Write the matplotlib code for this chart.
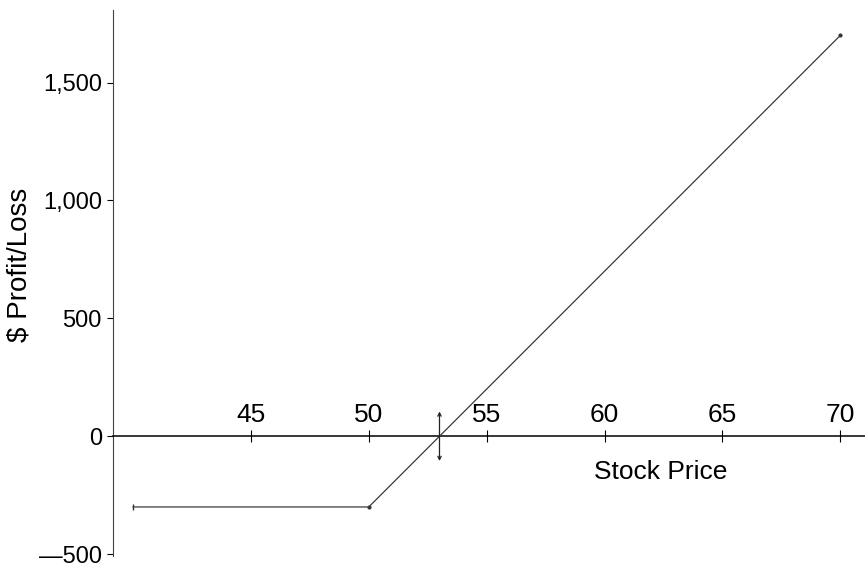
import matplotlib
matplotlib.use('Agg')
import matplotlib.pyplot as plt
from matplotlib.ticker import FuncFormatter

# Long call payoff: strike 50, premium 3 per share (100 shares)
prices = [40, 50, 70]
profit = [-300, -300, 1700]
breakeven = 53
x_ticks = [45, 50, 55, 60, 65, 70]
y_ticks = [-500, 0, 500, 1000, 1500]

plt.rcParams['font.family'] = ['Liberation Sans', 'DejaVu Sans']

fig = plt.figure(figsize=(8.65, 5.66), dpi=100)
ax = fig.add_axes([113 / 865, 10 / 566, 1 - 113 / 865, 546 / 566])

# payoff line
ax.plot(prices, profit, color='#3a3a3a', lw=0.9, zorder=3)
ax.plot(prices[0], profit[0], marker='|', color='#333333', ms=5, mew=1.0)
ax.plot(prices[1:], profit[1:], 'o', color='#333333', ms=2)

# breakeven marker
ax.annotate('', xy=(breakeven, 105), xytext=(breakeven, -105),
            arrowprops=dict(arrowstyle='<->', color='#222222', lw=0.9,
                            mutation_scale=6, shrinkA=0, shrinkB=0))

ax.set_xlim(39.15, 71.05)
ax.set_ylim(-508, 1808)

# x axis drawn at y = 0 with labels above
for s in ['right', 'bottom']:
    ax.spines[s].set_visible(False)
ax.spines['top'].set_position(('data', 0))
ax.spines['top'].set_linewidth(1.1)
ax.spines['left'].set_linewidth(0.8)
ax.spines['left'].set_color('#444444')
ax.xaxis.set_ticks_position('top')
ax.set_xticks(x_ticks)
ax.tick_params(axis='x', direction='inout', length=8, width=0.8,
               labelsize=19, pad=3)

ax.set_yticks(y_ticks)
ax.yaxis.set_major_formatter(FuncFormatter(
    lambda v, p: f'{int(v):,}'.replace('-', '\u2014')))
ax.tick_params(axis='y', direction='out', length=4, width=0.8,
               labelsize=17, pad=4)

fig.text(20 / 865, 1 - 265 / 566, '$ Profit/Loss', fontsize=20,
         rotation=90, ha='center', va='center')
ax.text(62.4, -150, 'Stock Price', fontsize=19, ha='center', va='center')

fig.savefig('out.png', dpi=100)
